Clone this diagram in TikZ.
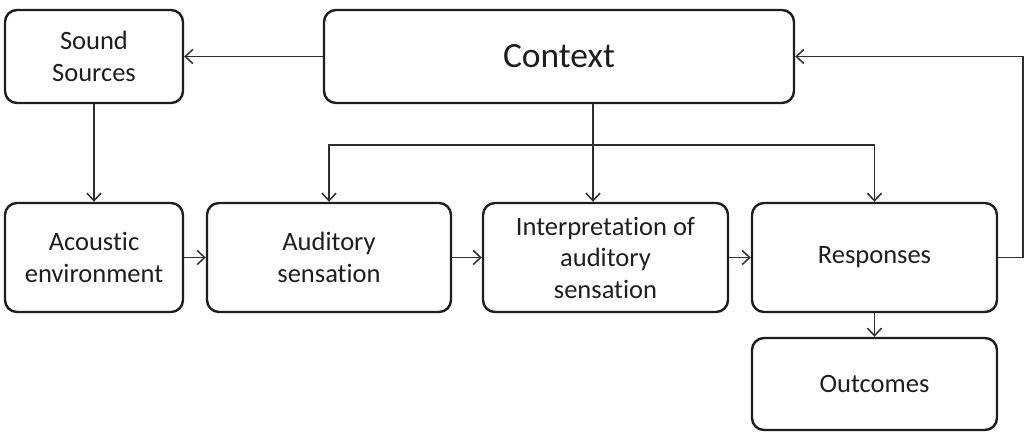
\documentclass[tikz,border=0pt]{standalone}
\usepackage{fontspec}
\setmainfont{Carlito}[Ligatures={NoCommon}]
\usetikzlibrary{arrows.meta}
\definecolor{ink}{HTML}{1E1E1E}
\definecolor{wire}{HTML}{2E2E2E}
\tikzset{
  box/.style={draw=ink, line width=2.4pt, rounded corners=12pt, align=center,
    text=ink, font=\fontsize{26.5}{31.5}\selectfont, inner sep=0pt},
  tip/.style={},
  arr/.style={draw=wire, line width=1.5pt, -{Straight Barb[length=7.5pt,width=14pt,line width=1.5pt]}},
  arrs/.style={draw=wire, line width=1.5pt, {Straight Barb[length=7.5pt,width=14pt,line width=1.5pt]}-{Straight Barb[length=7.5pt,width=14pt,line width=1.5pt]}},
}
\begin{document}
\begin{tikzpicture}[x=1pt,y=-1pt]
\useasboundingbox (0,0) rectangle (1029,444);
\node[box, minimum width=178pt, minimum height=93pt] (src) at (94,56.5) {Sound\\Sources};
\node[box, minimum width=470pt, minimum height=93pt, font=\fontsize{35.5}{40}\selectfont] (ctx) at (559,56.5) {Context};
\node[box, minimum width=178pt, minimum height=109pt] (ac) at (94,257.5) {Acoustic\\environment};
\node[box, minimum width=244pt, minimum height=109pt] (aud) at (329,257.5) {Auditory\\sensation};
\node[box, minimum width=245pt, minimum height=109pt] (int) at (605.5,257.5) {Interpretation of\\auditory\\sensation};
\node[box, minimum width=245pt, minimum height=109pt] (resp) at (874.5,257.5) {Responses};
\node[box, minimum width=245pt, minimum height=92pt] (out) at (874.5,384) {Outcomes};
\coordinate (bk) at (600,145);
\coordinate (fb) at (1023,150);
\draw[arr] (ctx.west) -- (src.east);
\draw[arr] (src.south) -- (ac.north);
\draw[arr] (ac.east) -- (aud.west);
\draw[arr] (aud.east) -- (int.west);
\draw[arr] (int.east) -- (resp.west);
\draw[arr] (resp.south) -- (out.north);
\draw[arrs] (aud.north) |- (bk) -| (resp.north);
\draw[arr] ([xshift=34pt]ctx.south) -- ([xshift=34pt]ctx.south |- int.north);
\draw[arr] (resp.east) -| (fb) |- (ctx.east);
\end{tikzpicture}
\end{document}
